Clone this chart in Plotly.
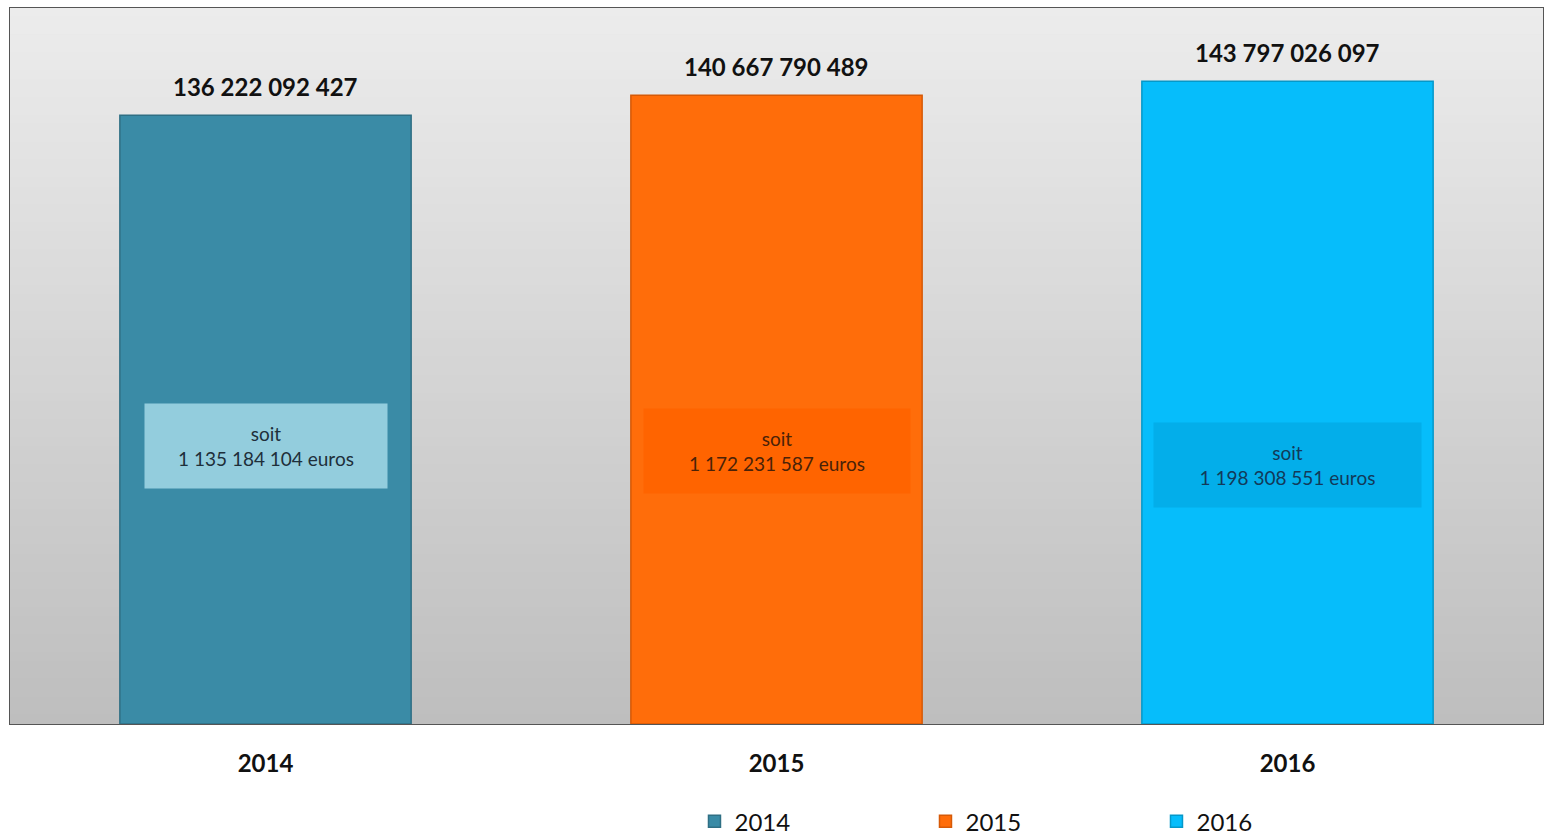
import plotly.graph_objects as go

years = ["2014", "2015", "2016"]
totals = [136222092427, 140667790489, 143797026097]
per_unit = [1135184104, 1172231587, 1198308551]

bar_colors = ["#3a8ba6", "#ff6d0a", "#06bdfb"]
bar_lines = ["#2f6f84", "#d65a08", "#0598c9"]
box_colors = ["#93cddd", "#ff6400", "#03aeea"]
box_text_colors = ["#1e2f3a", "#4a2208", "#123a5a"]
box_y = [62.3e9, 61.0e9, 57.9e9]
box_w = [240, 264, 265]


def fmt(v):
    return f"{v:,}".replace(",", " ")


fig = go.Figure()
for i, yr in enumerate(years):
    fig.add_trace(go.Bar(
        x=[yr], y=[totals[i]], name=yr,
        marker=dict(color=bar_colors[i], line=dict(color=bar_lines[i], width=1.5)),
        width=0.57, hoverinfo="skip",
    ))
    fig.add_annotation(
        x=i, y=totals[i], xref="x", yref="y", yanchor="bottom", yshift=12,
        text=fmt(totals[i]), showarrow=False,
        font=dict(family="Lato", size=24, color="#111111", weight="bold"),
    )
    fig.add_annotation(
        x=i, y=box_y[i], xref="x", yref="y",
        text=f"soit<br>{fmt(per_unit[i])} euros",
        showarrow=False, bgcolor=box_colors[i], width=box_w[i], height=82,
        font=dict(family="Lato", size=19, color=box_text_colors[i]),
        align="center", valign="middle",
    )

# vertical gradient background
n = 80
top = (236, 236, 236)
bot = (190, 190, 190)
shapes = []
for k in range(n):
    t = k / (n - 1)
    c = tuple(round(top[j] + (bot[j] - top[j]) * t) for j in range(3))
    shapes.append(dict(type="rect", xref="paper", yref="paper", x0=0, x1=1,
                       y0=1 - (k + 1) / n, y1=1 - k / n + 0.001,
                       fillcolor="rgb(%d,%d,%d)" % c, line=dict(width=0), layer="below"))
fig.update_layout(shapes=shapes)

fig.update_layout(
    width=1547, height=835,
    margin=dict(l=10, r=4, t=8, b=111, autoexpand=False),
    paper_bgcolor="white", plot_bgcolor="#d6d6d6",
    barmode="relative",
    showlegend=True,
    legend=dict(orientation="h", x=0.4465, xanchor="left", y=-0.105, yanchor="top",
                font=dict(family="Lato", size=24, color="#111111"),
                entrywidth=186, entrywidthmode="pixels", traceorder="normal"),
    xaxis=dict(type="category", range=[-0.5, 2.5], showgrid=False, ticks="", showline=True,
               mirror=True, linecolor="#555555", linewidth=1, ticklabelstandoff=18,
               tickfont=dict(family="Lato", size=24, color="#111111", weight="bold")),
    yaxis=dict(range=[0, 160.2e9], showgrid=False, showticklabels=False, ticks="",
               showline=True, mirror=True, linecolor="#555555", linewidth=1, zeroline=False),
    font=dict(family="Lato"),
)

fig.write_html("out.html", config={"displayModeBar": False},
               post_script="document.body.style.margin='0';document.body.style.overflow='hidden';")
